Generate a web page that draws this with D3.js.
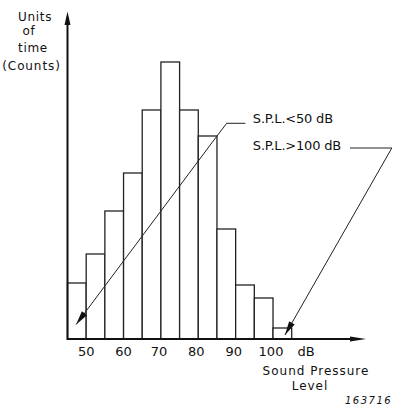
<!DOCTYPE html>
<html><head><meta charset="utf-8">
<script src="https://cdn.jsdelivr.net/npm/d3@7"></script>
<style>
html,body{margin:0;padding:0;background:#fff;}
svg{display:block;}
text{font-family:"DejaVu Sans",sans-serif;fill:#111;}
</style></head>
<body>
<svg id="chart" width="393" height="408"></svg>
<script>
// Bins of sound pressure level (dB), lower edges, 5 dB wide
const binStarts = [45, 50, 55, 60, 65, 70, 75, 80, 85, 90, 95, 100];
const binWidth = 5;
// Units of time (counts), arbitrary units
const counts = [56, 85, 128, 166, 229, 277, 229, 203, 110, 54, 41, 11];
const tickValues = [50, 60, 70, 80, 90, 100];
const yLabelLines = ["Units", "of", "time", "(Counts)"];
const xTitleLines = ["Sound Pressure", "Level"];
// Annotations: text and leader-line path in data units (dB, counts)
const annotations = [
  {label: "S.P.L.<50 dB", text: [94.6, 216], path: [[92.6, 215.7], [87.6, 215.7], [85, 203], [47.3, 14.5]]},
  {label: "S.P.L.>100 dB", text: [94.6, 189], path: [[120.6, 191], [131.8, 191], [103.2, 4]]}
];

const svg = d3.select("#chart");
const x = d3.scaleLinear().domain([45, 105]).range([67.5, 291.7]);
const y = d3.scaleLinear().domain([0, 300]).range([339, 39]);

// Bars
svg.append("g").selectAll("rect").data(binStarts).join("rect")
  .attr("x", d => x(d))
  .attr("y", (d, i) => y(counts[i]))
  .attr("width", d => x(d + binWidth) - x(d))
  .attr("height", (d, i) => y(0) - y(counts[i]))
  .attr("fill", "#fff")
  .attr("stroke", "#222")
  .attr("stroke-width", 1.3);

// Axes
const axisColor = "#111";
svg.append("line").attr("x1", x(45)).attr("x2", 352).attr("y1", y(0)).attr("y2", y(0))
  .attr("stroke", axisColor).attr("stroke-width", 2);
svg.append("path").attr("d", `M350,${y(0)-2.5} L366,${y(0)} L350,${y(0)+2.5} Z`).attr("fill", axisColor);
svg.append("line").attr("x1", x(45)).attr("x2", x(45)).attr("y1", y(0)+1).attr("y2", 24)
  .attr("stroke", axisColor).attr("stroke-width", 2);
svg.append("path").attr("d", `M${x(45)-3},25 L${x(45)},11.5 L${x(45)+3},25 Z`).attr("fill", axisColor);

// Tick labels
svg.append("g").selectAll("text").data(tickValues).join("text")
  .attr("x", d => x(d) - (d >= 70 ? 2 : 0))
  .attr("y", 356)
  .attr("text-anchor", "middle")
  .attr("font-size", 13)
  .text(d => d);
svg.append("text").attr("x", 306).attr("y", 356).attr("text-anchor", "middle")
  .attr("font-size", 13).text("dB");

// X title
svg.append("g").selectAll("text").data(xTitleLines).join("text")
  .attr("x", (d, i) => i === 0 ? 316 : 310)
  .attr("y", (d, i) => i === 0 ? 375 : 389.5)
  .attr("text-anchor", "middle")
  .attr("font-size", 12)
  .attr("letter-spacing", 1)
  .text(d => d);

// Y title
const yLabelPos = [[35, 21], [29, 35], [33, 51.5], [31.5, 70]];
svg.append("g").selectAll("text").data(yLabelLines).join("text")
  .attr("x", (d, i) => yLabelPos[i][0])
  .attr("y", (d, i) => yLabelPos[i][1])
  .attr("text-anchor", "middle")
  .attr("font-size", 12)
  .attr("letter-spacing", (d, i) => i === 3 ? 0.9 : 0.7)
  .text(d => d);

// Annotations
const line = d3.line().x(d => x(d[0])).y(d => y(d[1]));
annotations.forEach(a => {
  svg.append("path").attr("d", line(a.path)).attr("fill", "none")
    .attr("stroke", "#222").attr("stroke-width", 1);
  // filled arrowhead at the end of the path
  const p1 = a.path[a.path.length - 2], p2 = a.path[a.path.length - 1];
  const x1 = x(p1[0]), y1 = y(p1[1]), x2 = x(p2[0]), y2 = y(p2[1]);
  const ang = Math.atan2(y2 - y1, x2 - x1);
  const len = 14, half = 3.2;
  const bx = x2 - len * Math.cos(ang), by = y2 - len * Math.sin(ang);
  const nx = -Math.sin(ang) * half, ny = Math.cos(ang) * half;
  svg.append("path")
    .attr("d", `M${x2},${y2} L${bx + nx},${by + ny} L${bx - nx},${by - ny} Z`)
    .attr("fill", "#111");
  svg.append("text").attr("x", x(a.text[0])).attr("y", y(a.text[1]))
    .attr("font-size", 13).attr("letter-spacing", -0.2).text(a.label);
});

// Figure number
svg.append("text").attr("x", 345).attr("y", 404).attr("font-size", 10)
  .attr("font-style", "italic").attr("letter-spacing", 1.5).text("163716");
</script>
</body></html>
